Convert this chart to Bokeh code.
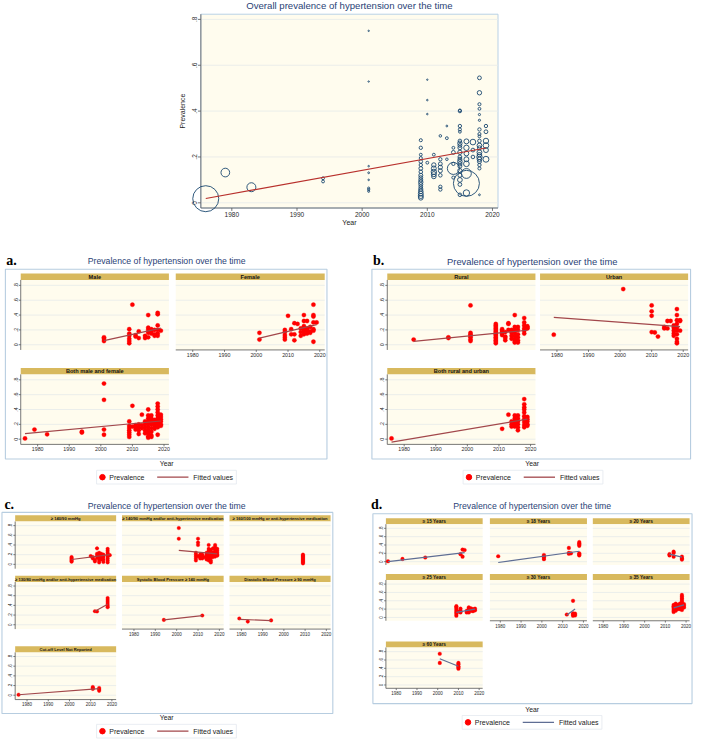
import math
from bokeh.plotting import figure
from bokeh.models import Range1d
from bokeh.embed import file_html
from bokeh.resources import INLINE
from bokeh.core.properties import value

# ---------------------------------------------------------------- data
year_ticks = [1980, 1990, 2000, 2010, 2020]
year_labels = ["1980", "1990", "2000", "2010", "2020"]
prev_ticks = [0, 0.2, 0.4, 0.6, 0.8]
prev_labels = ["0", ".2", ".4", ".6", ".8"]

# overall bubble chart (year, prevalence, study sample size)
overall_year = ([1976, 1979, 1983, 1994, 1994] + [2001] * 8 + [2009] * 19 + [2010] * 4
                + [2011] * 6 + [2012] * 8 + [2013] * 3 + [2014] * 5 + [2015] * 20
                + [2016] * 8 + [2017] * 3 + [2018] * 20 + [2019] * 6)
overall_prev = [
    0.018, 0.132, 0.068, 0.107, 0.093,
    0.750, 0.529, 0.160, 0.131, 0.100, 0.064, 0.057, 0.050,
    0.273, 0.240, 0.210, 0.195, 0.180, 0.165, 0.150, 0.135, 0.120, 0.110, 0.100, 0.090,
    0.080, 0.070, 0.060, 0.050, 0.040, 0.030, 0.022,
    0.537, 0.448, 0.387, 0.175,
    0.210, 0.165, 0.150, 0.135, 0.125, 0.115,
    0.292, 0.190, 0.170, 0.155, 0.140, 0.120, 0.070, 0.058,
    0.335, 0.282, 0.190,
    0.240, 0.220, 0.170, 0.150, 0.110,
    0.403, 0.400, 0.335, 0.320, 0.310, 0.270, 0.260, 0.250, 0.240, 0.220, 0.200, 0.190,
    0.180, 0.170, 0.160, 0.140, 0.120, 0.100, 0.080, 0.035,
    0.268, 0.240, 0.215, 0.190, 0.170, 0.128, 0.085, 0.043,
    0.265, 0.230, 0.200,
    0.545, 0.480, 0.430, 0.410, 0.385, 0.360, 0.320, 0.300, 0.290, 0.270, 0.250, 0.240,
    0.220, 0.210, 0.200, 0.190, 0.180, 0.165, 0.150, 0.035,
    0.335, 0.310, 0.270, 0.250, 0.230, 0.190,
]
overall_n = [
    42000, 4700, 5000, 500, 500,
    120, 120, 150, 200, 150, 300, 300, 250,
    600, 700, 500, 600, 800, 700, 900, 800, 1000, 900, 1000, 1200, 1000, 900, 1100, 1300,
    1500, 1600, 1400,
    120, 150, 150, 500,
    500, 1200, 1500, 1800, 1600, 1300,
    400, 700, 900, 1100, 1000, 800, 700, 700,
    200, 500, 400,
    500, 900, 700, 9000, 600,
    500, 700, 700, 600, 500, 800, 1200, 900, 1000, 1200, 900, 1000, 1300, 1100, 1000,
    1200, 1000, 1400, 900, 800,
    1500, 1800, 1400, 1500, 2000, 6000, 42000, 2500,
    2000, 900, 800,
    900, 1200, 600, 500, 300, 300, 700, 600, 500, 800, 1400, 1000, 1500, 1200, 1800,
    1300, 1000, 700, 600, 200,
    700, 900, 1800, 2000, 1500, 2200,
]
overall_fit_year = [1976, 2019]
overall_fit_prev = [0.019, 0.239]

# a. by sex
male_year = ([2001] * 3 + [2009] * 6 + [2010] + [2011] * 2 + [2012] * 2 + [2014] * 2
             + [2015] * 5 + [2016] * 3 + [2017] * 3 + [2018] * 6 + [2019])
male_prev = [0.10, 0.08, 0.05, 0.21, 0.15, 0.12, 0.08, 0.05, 0.02, 0.54, 0.13, 0.11,
             0.18, 0.09, 0.12, 0.09, 0.40, 0.23, 0.20, 0.16, 0.10, 0.21, 0.18, 0.15,
             0.20, 0.14, 0.12, 0.43, 0.41, 0.26, 0.20, 0.15, 0.12, 0.19]
male_fit_year = [2001, 2019]
male_fit_prev = [0.055, 0.225]

female_year = ([2001] * 2 + [2009] * 5 + [2010] + [2011] * 2 + [2012] * 3 + [2013]
               + [2014] * 3 + [2015] * 6 + [2016] * 4 + [2017] * 3 + [2018] * 7 + [2019])
female_prev = [0.16, 0.07, 0.20, 0.17, 0.13, 0.10, 0.07, 0.39, 0.21, 0.14, 0.29, 0.14,
               0.06, 0.28, 0.22, 0.17, 0.12, 0.40, 0.32, 0.25, 0.21, 0.18, 0.14, 0.32,
               0.22, 0.19, 0.15, 0.24, 0.18, 0.16, 0.54, 0.40, 0.38, 0.30, 0.21, 0.19,
               0.04, 0.30]
female_fit_year = [2001, 2019]
female_fit_prev = [0.088, 0.27]

bothsex_year = ([1976, 1979, 1983] + [1994] * 2 + [2001] * 4 + [2009] * 7 + [2010] * 2
                + [2011] * 3 + [2012] * 4 + [2013] * 3 + [2014] * 5 + [2015] * 10
                + [2016] * 8 + [2017] * 4 + [2018] * 10 + [2019] * 6)
bothsex_prev = [0.01, 0.13, 0.065, 0.10, 0.09, 0.75, 0.53, 0.13, 0.06,
                0.24, 0.18, 0.15, 0.12, 0.09, 0.06, 0.03, 0.45, 0.17, 0.19, 0.16, 0.13,
                0.20, 0.16, 0.12, 0.07, 0.33, 0.19, 0.15, 0.24, 0.20, 0.16, 0.12, 0.08,
                0.40, 0.32, 0.28, 0.24, 0.20, 0.16, 0.12, 0.08, 0.04, 0.02,
                0.32, 0.28, 0.24, 0.20, 0.15, 0.10, 0.05, 0.03, 0.26, 0.22, 0.18, 0.14,
                0.48, 0.44, 0.40, 0.36, 0.32, 0.28, 0.24, 0.20, 0.16, 0.06,
                0.33, 0.30, 0.27, 0.24, 0.20, 0.18]
bothsex_fit_year = [1976, 2019]
bothsex_fit_prev = [0.075, 0.245]

# b. by residence
rural_year = ([1983] + [1994] * 2 + [2001] * 7 + [2009] * 14 + [2011] * 5 + [2012] * 4
              + [2013] * 3 + [2014] * 4 + [2015] * 8 + [2016] * 6 + [2018] * 6 + [2019] * 3)
rural_prev = [0.07, 0.10, 0.09, 0.53, 0.16, 0.14, 0.12, 0.10, 0.07, 0.05,
              0.28, 0.26, 0.24, 0.22, 0.20, 0.18, 0.16, 0.14, 0.12, 0.10, 0.08, 0.06, 0.04, 0.02,
              0.21, 0.19, 0.17, 0.15, 0.13, 0.17, 0.11, 0.09, 0.06, 0.29, 0.28, 0.20,
              0.20, 0.16, 0.12, 0.08, 0.40, 0.24, 0.20, 0.16, 0.12, 0.08, 0.05, 0.03,
              0.24, 0.20, 0.14, 0.10, 0.06, 0.03, 0.36, 0.30, 0.26, 0.22, 0.19, 0.15,
              0.25, 0.23, 0.22]
rural_fit_year = [1983, 2019]
rural_fit_prev = [0.045, 0.195]

urban_year = ([1979, 2001] + [2010] * 4 + [2011] + [2012] + [2014] * 2 + [2015] * 2 + [2016]
              + [2017] * 5 + [2018] * 10 + [2019] * 3)
urban_prev = [0.135, 0.75, 0.53, 0.45, 0.39, 0.17, 0.165, 0.11, 0.24, 0.22, 0.32, 0.22,
              0.32, 0.26, 0.23, 0.19, 0.15, 0.12, 0.48, 0.40, 0.33, 0.28, 0.23, 0.19,
              0.14, 0.08, 0.04, 0.02, 0.33, 0.32, 0.19]
urban_fit_year = [1979, 2019]
urban_fit_prev = [0.37, 0.245]

bothres_year = [1976, 2011, 2013] + [2014] * 3 + [2015] * 5 + [2016] * 6 + [2018] * 10 + [2019] * 5
bothres_prev = [0.01, 0.14, 0.33, 0.24, 0.20, 0.17, 0.32, 0.28, 0.24, 0.20, 0.17,
                0.32, 0.28, 0.24, 0.20, 0.16, 0.12,
                0.54, 0.47, 0.43, 0.40, 0.36, 0.31, 0.27, 0.23, 0.19, 0.16,
                0.30, 0.27, 0.24, 0.20, 0.18]
bothres_fit_year = [1976, 2019]
bothres_fit_prev = [-0.04, 0.27]

# c. by cut-off definition
c140_year = ([2001] * 6 + [2010] + [2011] * 2 + [2012] * 2 + [2013] * 4 + [2014] * 6
             + [2015] * 4 + [2016] * 4 + [2018] * 8 + [2019])
c140_prev = [0.15, 0.13, 0.11, 0.09, 0.07, 0.055, 0.17, 0.15, 0.12, 0.09, 0.06,
             0.33, 0.22, 0.18, 0.13, 0.24, 0.20, 0.16, 0.12, 0.08, 0.04,
             0.22, 0.18, 0.14, 0.10, 0.20, 0.15, 0.10, 0.05,
             0.32, 0.28, 0.24, 0.20, 0.16, 0.12, 0.08, 0.04, 0.19]
c140_fit_year = [2001, 2019]
c140_fit_prev = [0.10, 0.20]

c140med_year = ([2001] * 2 + [2009] * 5 + [2010] * 4 + [2011] * 3 + [2012] * 3 + [2013]
                + [2014] * 4 + [2015] * 8 + [2016] * 6 + [2017] * 4 + [2018] * 7 + [2019] * 5)
c140med_prev = [0.75, 0.53, 0.24, 0.20, 0.16, 0.12, 0.08, 0.53, 0.45, 0.40, 0.17,
                0.20, 0.15, 0.12, 0.20, 0.16, 0.12, 0.15, 0.24, 0.20, 0.15, 0.10,
                0.40, 0.32, 0.28, 0.24, 0.20, 0.16, 0.12, 0.08,
                0.30, 0.24, 0.20, 0.14, 0.08, 0.04, 0.33, 0.25, 0.20, 0.15,
                0.40, 0.36, 0.32, 0.28, 0.24, 0.20, 0.16, 0.32, 0.28, 0.24, 0.20, 0.18]
c140med_fit_year = [2001, 2019]
c140med_fit_prev = [0.29, 0.215]

c160_year = [2009] * 10
c160_prev = [0.20, 0.18, 0.16, 0.14, 0.12, 0.10, 0.08, 0.06, 0.04, 0.02]

c130_year = [2012, 2013] + [2018] * 6
c130_prev = [0.28, 0.275, 0.55, 0.51, 0.47, 0.43, 0.39, 0.36]
c130_fit_year = [2012, 2018]
c130_fit_prev = [0.28, 0.425]

csbp_year = [1994, 2012]
csbp_prev = [0.10, 0.19]
csbp_fit_year = [1994, 2012]
csbp_fit_prev = [0.10, 0.19]

cdbp_year = [1979, 1983, 1994]
cdbp_prev = [0.13, 0.065, 0.09]
cdbp_fit_year = [1979, 1994]
cdbp_fit_prev = [0.112, 0.085]

cnr_year = [1976] + [2011] * 3 + [2014] * 3
cnr_prev = [0.01, 0.17, 0.15, 0.13, 0.15, 0.12, 0.09]
cnr_fit_year = [1976, 2014]
cnr_fit_prev = [0.01, 0.135]

# d. by age group
d15_year = [1976, 1983, 1994, 2011, 2012, 2012, 2013]
d15_prev = [0.01, 0.065, 0.10, 0.18, 0.29, 0.12, 0.28]
d15_fit_year = [1976, 2013]
d15_fit_prev = [0.0, 0.215]

d18_year = [1979] + [2001] * 4 + [2013] * 3 + [2014] + [2018] * 7
d18_prev = [0.13, 0.16, 0.13, 0.10, 0.06, 0.33, 0.21, 0.19, 0.20,
            0.47, 0.44, 0.41, 0.38, 0.20, 0.17, 0.15]
d18_fit_year = [1979, 2018]
d18_fit_prev = [-0.02, 0.25]

d20_year = [2012] * 2 + [2014] * 3 + [2018] * 3
d20_prev = [0.18, 0.15, 0.24, 0.21, 0.12, 0.12, 0.08, 0.05]
d20_fit_year = [2012, 2018]
d20_fit_prev = [0.18, 0.11]

d25_year = [2009] * 7 + [2010] + [2011] * 3 + [2014] * 2 + [2015] * 4 + [2016] * 2 + [2017] * 2 + [2018] * 2
d25_prev = [0.27, 0.24, 0.20, 0.16, 0.12, 0.08, 0.04, 0.14, 0.21, 0.16, 0.12, 0.16, 0.12,
            0.24, 0.20, 0.16, 0.12, 0.22, 0.16, 0.20, 0.15, 0.21, 0.17]
d25_fit_year = [2009, 2018]
d25_fit_prev = [0.12, 0.20]

d30_year = [2012] + [2015] * 4 + [2016] * 2
d30_prev = [0.07, 0.40, 0.10, 0.07, 0.04, 0.09, 0.05]
d30_fit_year = [2012, 2016]
d30_fit_prev = [0.06, 0.20]

d35_year = [2014] * 6 + [2015] * 5 + [2016] * 3 + [2017] * 3 + [2018] * 10 + [2019] * 3
d35_prev = [0.30, 0.27, 0.24, 0.20, 0.16, 0.13, 0.33, 0.28, 0.24, 0.20, 0.16,
            0.30, 0.25, 0.20, 0.33, 0.24, 0.20,
            0.54, 0.50, 0.46, 0.42, 0.38, 0.34, 0.30, 0.26, 0.22, 0.18, 0.32, 0.28, 0.24]
d35_fit_year = [2014, 2019]
d35_fit_prev = [0.23, 0.30]

d60_year = [2001] * 2 + [2010] * 5
d60_prev = [0.75, 0.53, 0.53, 0.50, 0.45, 0.42, 0.39]
d60_fit_year = [2001, 2010]
d60_fit_prev = [0.63, 0.45]

# ---------------------------------------------------------------- styles
FONT = value("Liberation Sans")
SERIF = value("Liberation Serif")
CREAM = "#fffcee"
GRID = "#e9ecea"
AXIS = "#555555"
TICKTXT = "#2a2a2a"
HEADER = "#d8b95e"
BOX = "#b7cde0"
NAVY = "#1a476f"
RED = "#ff0000"
MAROON = "#a2474b"
SLATE = "#5f6e94"
TITLE = "#2a3f76"

REF_W, REF_H = 709, 755
p = figure(width=693, height=739, x_range=Range1d(0, REF_W), y_range=Range1d(REF_H, 0),
           x_axis_location=None, y_axis_location=None, output_backend="svg",
           toolbar_location=None, min_border=0)
p.outline_line_color = None
p.background_fill_color = "white"
p.border_fill_color = "white"
p.grid.visible = False


def label(x, y, s, size, color="#222222", align="center", baseline="middle",
          style="normal", angle=0.0, font=FONT):
    p.text(x=[x], y=[y], text=[s], text_font=font, text_font_size=size, text_color=color,
           text_align=align, text_baseline=baseline, text_font_style=style, angle=angle)


def panel(box, xr, yr, xs, ys, fx=None, fy=None, dot=4.2, fit_color=MAROON,
          yaxis=True, xaxis=True, tick_fs="5.2px", tick_px=2.0, bubble=None,
          border=None):
    l, r, t, b = box
    sub = p.subplot(x_source=Range1d(*xr), y_source=Range1d(*yr),
                    x_target=Range1d(l, r), y_target=Range1d(b, t))
    sub.quad(left=[xr[0]], right=[xr[1]], bottom=[yr[0]], top=[yr[1]],
             fill_color=CREAM, line_color=border, line_width=1)
    n = len(prev_ticks)
    sub.segment(x0=[xr[0]] * n, x1=[xr[1]] * n, y0=prev_ticks, y1=prev_ticks,
                line_color=GRID, line_width=0.9)
    ux = (xr[1] - xr[0]) / (r - l)
    uy = (yr[1] - yr[0]) / (b - t)
    if yaxis:
        sub.segment(x0=[xr[0]], x1=[xr[0]], y0=[yr[0]], y1=[yr[1]], line_color=AXIS, line_width=0.8)
        sub.segment(x0=[xr[0]] * n, x1=[xr[0] - tick_px * ux] * n, y0=prev_ticks, y1=prev_ticks,
                    line_color=AXIS, line_width=0.8)
        sub.text(x=[xr[0] - (tick_px + 1.2) * ux] * n, y=prev_ticks, text=prev_labels,
                 angle=math.pi / 2, text_align="center", text_baseline="bottom",
                 text_font=FONT, text_font_size=tick_fs, text_color=TICKTXT)
    if xaxis:
        m = len(year_ticks)
        sub.segment(x0=[xr[0]], x1=[xr[1]], y0=[yr[0]], y1=[yr[0]], line_color=AXIS, line_width=0.8)
        sub.segment(x0=year_ticks, x1=year_ticks, y0=[yr[0]] * m, y1=[yr[0] - tick_px * uy] * m,
                    line_color=AXIS, line_width=0.8)
        sub.text(x=year_ticks, y=[yr[0] - (tick_px + 1.0) * uy] * m, text=year_labels,
                 text_align="center", text_baseline="top",
                 text_font=FONT, text_font_size=tick_fs, text_color=TICKTXT)
    if bubble is not None:
        sub.scatter(xs, ys, size=bubble, fill_color=None, line_color=NAVY, line_width=0.9)
    else:
        sub.scatter(xs, ys, size=dot, fill_color=RED, line_color=RED, line_width=0.3)
    if fx is not None:
        sub.line(fx, fy, line_color=fit_color, line_width=1.2)
    return sub


def header(l, r, t, h, s, fs):
    p.quad(left=[l], right=[r], top=[t - h], bottom=[t], fill_color=HEADER, line_color=None)
    label((l + r) / 2, t - h / 2 + 0.2, s, fs, color="#111111", style="bold")


def legend(xd, y, fit_color):
    p.quad(left=[xd - 6], right=[xd + 137], top=[y - 7], bottom=[y + 7],
           fill_color="white", line_color="#e3e9ef", line_width=0.8)
    p.scatter([xd], [y], size=5.5, fill_color=RED, line_color=RED)
    label(xd + 7, y, "Prevalence", "7px", align="left")
    p.line([xd + 56, xd + 88], [y, y], line_color=fit_color, line_width=1.3)
    label(xd + 93, y, "Fitted values", "7px", align="left")


# ---------------------------------------------------------------- top chart
TOP_BOX = (205, 509, 14, 212)
TOP_XR = (1975.25, 2020.85)
TOP_YR = (-0.0226, 0.8226)
bubble_size = [26.0 * math.sqrt(v / 42000.0) for v in overall_n]
label(357, 5.5, "Overall prevalence of hypertension over the time", "9.6px", color=TITLE)
panel(TOP_BOX, TOP_XR, TOP_YR, overall_year, overall_prev, overall_fit_year, overall_fit_prev,
      fit_color="#b8302c", tick_fs="6.5px", tick_px=3.0, bubble=bubble_size, border="#b9d1e6")
label(186, 113, "Prevalence", "7px", angle=math.pi / 2, baseline="middle")
label(357, 226.5, "Year", "7px")

# ---------------------------------------------------------------- helpers for facet panels
def facet_block(dx, title, title_fs, names, data, cols, rows, xr, yr, hh, hfs, tfs, dot,
                fitc, layout):
    pass


# ---------------------------------------------------------------- panel a / b
A_XR = (1974.65, 2021.55)
A_YR = (-0.07, 0.873)
ROW1 = (285.5, 357.0)
ROW2 = (382.0, 453.5)

for (dx, lab, ttl_x, ttl_fs, cols, names, series) in [
    (0, "a.", 170, "8.7px", [(20.7, 172.3), (179.3, 331.7)],
     ["Male", "Female", "Both male and female"],
     [(male_year, male_prev, male_fit_year, male_fit_prev),
      (female_year, female_prev, female_fit_year, female_fit_prev),
      (bothsex_year, bothsex_prev, bothsex_fit_year, bothsex_fit_prev)]),
    (375, "b.", 544, "9.4px", [(395.7, 547.3), (552.0, 703.5)],
     ["Rural", "Urban", "Both rural and urban"],
     [(rural_year, rural_prev, rural_fit_year, rural_fit_prev),
      (urban_year, urban_prev, urban_fit_year, urban_fit_prev),
      (bothres_year, bothres_prev, bothres_fit_year, bothres_fit_prev)]),
]:
    box_l, box_r = (5, 334) if dx == 0 else (380, 706)
    p.quad(left=[box_l], right=[box_r], top=[274.5], bottom=[468.5], fill_color="white",
           line_color=BOX, line_width=1.1)
    label(box_l + 1, 265.5, lab, "14px", color="#000000", align="left", style="bold", font=SERIF)
    label(ttl_x, 266.5, "Prevalence of hypertension over the time", ttl_fs, color=TITLE)
    specs = [(cols[0], ROW1, True, False), (cols[1], ROW1, False, True), (cols[0], ROW2, True, True)]
    for (c, rw, ya, xa), nm, (sx, sy, fx, fy) in zip(specs, names, series):
        header(c[0], c[1], rw[0], 6.5, nm, "5.6px")
        panel((c[0], c[1], rw[0], rw[1]), A_XR, A_YR, sx, sy, fx, fy, dot=4.3,
              yaxis=ya, xaxis=xa, tick_fs="5.3px", tick_px=2.0)
    label(ttl_x, 473.5, "Year", "6.8px")
    legend(104.3 + dx, 487.0, MAROON)

# ---------------------------------------------------------------- panel c
C_XR = (1974.4, 2022.0)
C_YR = (-0.09, 0.885)
C_COLS = [(15.0, 118.3), (124.3, 228.3), (234.3, 337.7)]
C_ROWS = [(532.3, 580.5), (594.0, 642.2), (666.0, 714.2)]
p.quad(left=[1.5], right=[340], top=[523], bottom=[728.5], fill_color="white",
       line_color=BOX, line_width=1.1)
label(4, 515, "c.", "14px", color="#000000", align="left", style="bold", font=SERIF)
label(170, 516.5, "Prevalence of hypertension over the time", "8.7px", color=TITLE)
c_panels = [
    (0, 0, "\u2265 140/90 mmHg", c140_year, c140_prev, c140_fit_year, c140_fit_prev, True, False),
    (1, 0, "\u2265 140/90 mmHg and/or anti-hypertensive medication", c140med_year, c140med_prev,
     c140med_fit_year, c140med_fit_prev, False, False),
    (2, 0, "\u2265 160/100 mmHg or anti-hypertensive medication", c160_year, c160_prev, None, None,
     False, False),
    (0, 1, "\u2265 130/80 mmHg and/or anti-hypertensive medication", c130_year, c130_prev,
     c130_fit_year, c130_fit_prev, True, False),
    (1, 1, "Systolic Blood Pressure \u2265 140 mmHg", csbp_year, csbp_prev, csbp_fit_year,
     csbp_fit_prev, False, True),
    (2, 1, "Diastolic Blood Pressure \u2265 90 mmHg", cdbp_year, cdbp_prev, cdbp_fit_year,
     cdbp_fit_prev, False, True),
    (0, 2, "Cut-off Level Not Reported", cnr_year, cnr_prev, cnr_fit_year, cnr_fit_prev, True, True),
]
for ci, ri, nm, sx, sy, fx, fy, ya, xa in c_panels:
    c = C_COLS[ci]
    rw = C_ROWS[ri]
    header(c[0], c[1], rw[0], 6.3, nm, "4.1px")
    panel((c[0], c[1], rw[0], rw[1]), C_XR, C_YR, sx, sy, fx, fy, dot=3.6,
          yaxis=ya, xaxis=xa, tick_fs="4.5px", tick_px=1.8)
label(170, 732.5, "Year", "6.8px")
legend(104.3, 746.5, MAROON)

# ---------------------------------------------------------------- panel d
D_XR = (1975.0, 2021.7)
D_YR = (-0.08, 0.9)
D_COLS = [(394.3, 493.3), (500.7, 600.0), (606.0, 705.0)]
D_ROWS = [(535.0, 576.7), (592.0, 633.7), (661.0, 702.7)]
p.quad(left=[381], right=[707.5], top=[524.3], bottom=[718.3], fill_color="white",
       line_color=BOX, line_width=1.1)
label(379, 515, "d.", "14px", color="#000000", align="left", style="bold", font=SERIF)
label(544, 516.5, "Prevalence of hypertension over the time", "8.7px", color=TITLE)
d_panels = [
    (0, 0, "\u2265 15 Years", d15_year, d15_prev, d15_fit_year, d15_fit_prev, True, False),
    (1, 0, "\u2265 18 Years", d18_year, d18_prev, d18_fit_year, d18_fit_prev, False, False),
    (2, 0, "\u2265 20 Years", d20_year, d20_prev, d20_fit_year, d20_fit_prev, False, False),
    (0, 1, "\u2265 25 Years", d25_year, d25_prev, d25_fit_year, d25_fit_prev, True, False),
    (1, 1, "\u2265 30 Years", d30_year, d30_prev, d30_fit_year, d30_fit_prev, False, True),
    (2, 1, "\u2265 35 Years", d35_year, d35_prev, d35_fit_year, d35_fit_prev, False, True),
    (0, 2, "\u2265 60 Years", d60_year, d60_prev, d60_fit_year, d60_fit_prev, True, True),
]
for ci, ri, nm, sx, sy, fx, fy, ya, xa in d_panels:
    c = D_COLS[ci]
    rw = D_ROWS[ri]
    header(c[0], c[1], rw[0], 6.0, nm, "4.8px")
    panel((c[0], c[1], rw[0], rw[1]), D_XR, D_YR, sx, sy, fx, fy, dot=3.7, fit_color=SLATE,
          yaxis=ya, xaxis=xa, tick_fs="4.5px", tick_px=1.8)
label(544, 724.5, "Year", "6.8px")
legend(478.3, 737.5, SLATE)

open("out.html", "w").write(file_html(p, INLINE))
